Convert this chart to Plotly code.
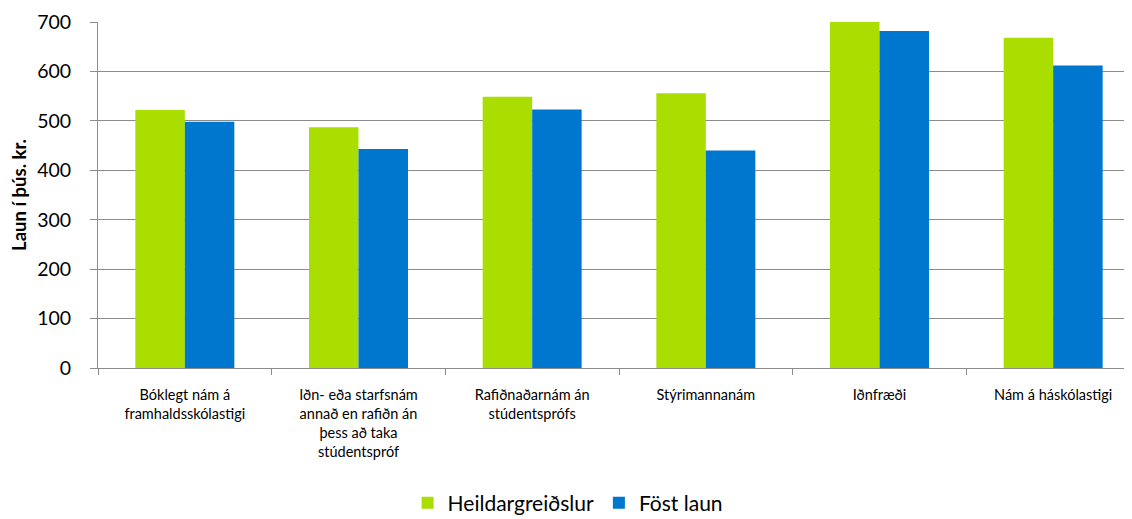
import plotly.graph_objects as go

categories = [
    "Bóklegt nám á<br>framhaldsskólastigi",
    "Iðn- eða starfsnám<br>annað en rafiðn án<br>þess að taka<br>stúdentspróf",
    "Rafiðnaðarnám án<br>stúdentsprófs",
    "Stýrimannanám",
    "Iðnfræði",
    "Nám á háskólastigi",
]
heildargreidslur = [522, 487, 549, 556, 701, 668]
fost_laun = [498, 443, 523, 440, 682, 612]
y_ticks = [0, 100, 200, 300, 400, 500, 600, 700]

FONT = "Lato"
GRID = "#8c8c8c"

fig = go.Figure()
fig.add_trace(go.Bar(name="Heildargreiðslur", x=categories, y=heildargreidslur,
                     marker=dict(color="#aade00", line=dict(width=0))))
fig.add_trace(go.Bar(name="Föst laun", x=categories, y=fost_laun,
                     marker=dict(color="#0077cf", line=dict(width=0))))

fig.update_layout(
    width=1132, height=519,
    margin=dict(l=90, r=0, t=14, b=159, autoexpand=False),
    paper_bgcolor="white", plot_bgcolor="white",
    barmode="group", bargap=0.43, bargroupgap=0,
    font=dict(family=FONT, color="#000000"),
    legend=dict(orientation="h", x=0.353, xref="container", xanchor="left",
                y=0.046, yref="container", yanchor="middle",
                font=dict(size=21, family=FONT), itemwidth=30,
                traceorder="normal"),
    xaxis=dict(range=[-0.5, 5.5], showline=True, linecolor=GRID, linewidth=1,
               ticks="outside", tickson="boundaries", ticklen=6, tickcolor=GRID,
               tickfont=dict(size=14.5, family=FONT), showgrid=False, tickangle=0,
               ticklabelstandoff=14, automargin=False),
    yaxis=dict(range=[0, 700], tickvals=y_ticks, showline=True, linecolor=GRID,
               linewidth=1, ticks="outside", ticklen=7, tickcolor=GRID,
               gridcolor=GRID, gridwidth=1, zeroline=False,
               tickfont=dict(size=19.5, family=FONT), ticklabelstandoff=15,
               automargin=False,
               title=dict(text="<b>Laun í þús. kr.</b>", font=dict(size=18.5, family=FONT), standoff=10)),
)

fig.write_html("out.html")
